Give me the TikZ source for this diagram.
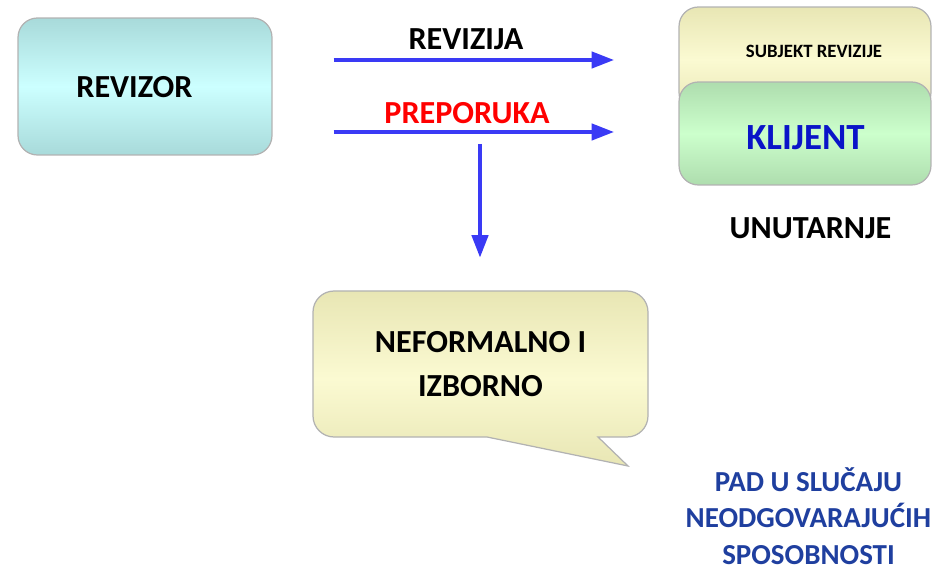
\documentclass[tikz,border=0pt]{standalone}
\usepackage{fontspec}
\setmainfont{Carlito}
\usetikzlibrary{arrows.meta}
\definecolor{flowblue}{HTML}{3A3AF5}
\definecolor{revtop}{HTML}{A8DADA}
\definecolor{revmid}{HTML}{CCFFFF}
\definecolor{subtop}{HTML}{E8E6B4}
\definecolor{submid}{HTML}{FBFAD2}
\definecolor{klitop}{HTML}{AEDDAE}
\definecolor{klimid}{HTML}{CCFFCC}
\definecolor{klitext}{HTML}{0A14C8}
\definecolor{padblue}{HTML}{1F3F9F}
\begin{document}
\begin{tikzpicture}[x=0.02cm,y=-0.02cm,
	box/.style={draw=gray!60,rounded corners=11pt,line width=0.7pt},
	flow/.style={draw=flowblue,line width=2.7pt,-{Triangle[length=13pt,width=9pt]}},
	big/.style={font=\bfseries\fontsize{18.3}{22}\selectfont}]
	\useasboundingbox (0,0) rectangle (939,570);
	
	% left box
	\node[box,top color=revtop,bottom color=revtop,middle color=revmid,
		minimum width=5.08cm,minimum height=2.74cm] (revizor) at (145,86.5) {};
	\node[big] (revizortxt) at (134.5,87) {REVIZOR};
	
	% right boxes
	\node[box,top color=subtop,bottom color=subtop,middle color=submid,
		minimum width=5.04cm,minimum height=2.1cm] (subjekt) at (805,59.5) {};
	\node[font=\bfseries\fontsize{10.7}{13}\selectfont] (subjekttxt) at (814,51.5) {SUBJEKT REVIZIJE};
	\node[box,top color=klitop,bottom color=klitop,middle color=klimid,
		minimum width=5.04cm,minimum height=2.06cm] (klijent) at (805,133.5) {};
	\node[font=\bfseries\fontsize{21}{25}\selectfont,text=klitext] (klijenttxt) at (805.5,137.5) {KLIJENT};
	\node[big] (unutarnje) at (810.5,228) {UNUTARNJE};
	
	% arrows
	\draw[flow,shorten <=1.22cm,shorten >=1.28cm] (revizor.east |- 0,60) -- (subjekt.west |- 0,60);
	\draw[flow,shorten <=1.22cm,shorten >=1.28cm] (revizor.east |- 0,132) -- (klijent.west |- 0,132);
	\node[big] (revizija) at (466,39.5) {REVIZIJA};
	\node[big,text=red] (preporuka) at (467,113) {PREPORUKA};
	
	% callout
	\draw[draw=gray!60,line width=0.7pt,top color=subtop,bottom color=subtop,middle color=submid,rounded corners=12pt]
		(313,291) -- (648,291) -- (648,437) [sharp corners] -- (598,437) -- (628,466) -- (487,437)
		[rounded corners=12pt] -- (313,437) -- cycle;
	\node[align=center,font=\bfseries\fontsize{18.3}{25.5}\selectfont] (neformalno) at (480.5,364) {NEFORMALNO I\\IZBORNO};
	\coordinate (d1) at (480,144);
	\coordinate (d2) at (480,258);
	\draw[flow] (d1) -- (d2);
	
	% bottom note
	\node[align=center,text=padblue,font=\bfseries\fontsize{16.5}{20.7}\selectfont] (pad) at (808.5,516) {PAD U SLUČAJU\\NEODGOVARAJUĆIH\\SPOSOBNOSTI};
\end{tikzpicture}
\end{document}
